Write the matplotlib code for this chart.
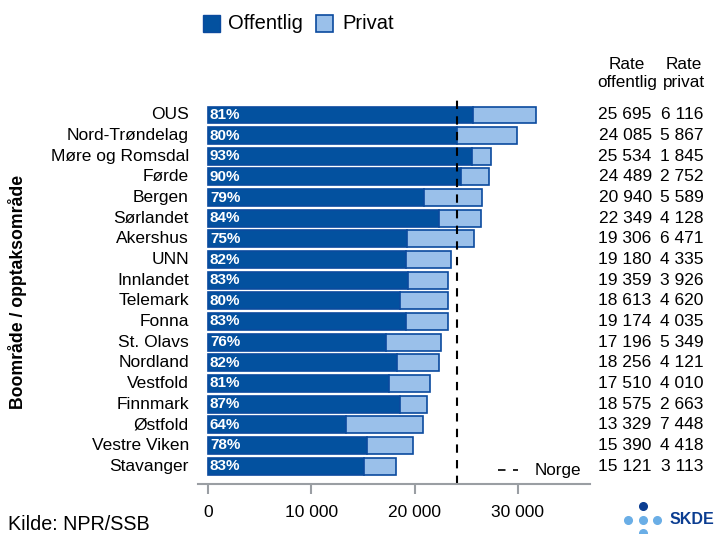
import matplotlib.pyplot as plt
from matplotlib.patches import Rectangle
from matplotlib.lines import Line2D

plt.rcParams['font.family'] = ['Liberation Sans', 'DejaVu Sans']

omrader = ["OUS", "Nord-Trøndelag", "Møre og Romsdal", "Førde", "Bergen", "Sørlandet",
           "Akershus", "UNN", "Innlandet", "Telemark", "Fonna", "St. Olavs",
           "Nordland", "Vestfold", "Finnmark", "Østfold", "Vestre Viken", "Stavanger"]
offentlig = [25695, 24085, 25534, 24489, 20940, 22349, 19306, 19180, 19359, 18613,
             19174, 17196, 18256, 17510, 18575, 13329, 15390, 15121]
privat = [6116, 5867, 1845, 2752, 5589, 4128, 6471, 4335, 3926, 4620,
          4035, 5349, 4121, 4010, 2663, 7448, 4418, 3113]
andel = [81, 80, 93, 90, 79, 84, 75, 82, 83, 80, 83, 76, 82, 81, 87, 64, 78, 83]
norge = 24100

mork = "#03519F"
lys = "#9AC0EA"
kant = "#0B4A9E"
gra = "#9A9EA3"


def fmt(v):
    return "{:,}".format(v).replace(",", " ")


fig = plt.figure(figsize=(7.15, 5.34), dpi=100)
ax = fig.add_axes([0.277, 0.0936, 0.548, 0.722])

y = list(range(len(omrader)))
ax.barh(y, offentlig, height=0.82, color=mork, edgecolor=kant, linewidth=1.2)
ax.barh(y, privat, left=offentlig, height=0.82, color=lys, edgecolor=kant, linewidth=1.2)

for i in y:
    ax.text(150, i, "{}%".format(andel[i]), color="white", fontsize=11,
            fontweight="bold", va="center", ha="left")
    ax.text(-1900, i, omrader[i], fontsize=12.5, va="center", ha="right")
    ax.text(43000, i, fmt(offentlig[i]), fontsize=12.5, va="center", ha="right")
    ax.text(48000, i, fmt(privat[i]), fontsize=12.5, va="center", ha="right")

ax.axvline(norge, color="black", linestyle=(0, (4, 3.5)), linewidth=1.5)
ax.plot([28100, 30000], [17.2, 17.2], color="black", linestyle=(0, (4.5, 4.5)),
        linewidth=1.2, clip_on=False)
ax.text(31600, 17.2, "Norge", fontsize=12.3, va="center", ha="left")

ax.text(40600, -2.0, "Rate\noffentlig", fontsize=12.3, ha="center", va="center",
        linespacing=1.2)
ax.text(46100, -2.0, "Rate\nprivat", fontsize=12.3, ha="center", va="center",
        linespacing=1.2)

ax.set_xlim(-1000, 37000)
ax.set_ylim(17.87, -0.8)
ax.set_yticks([])
ax.set_xticks([0, 10000, 20000, 30000])
ax.set_xticklabels(["0", "10 000", "20 000", "30 000"], fontsize=12.5)
ax.tick_params(axis="x", length=7, width=1.5, color=gra, pad=8)
for s in ["top", "right", "left"]:
    ax.spines[s].set_visible(False)
ax.spines["bottom"].set_color(gra)
ax.spines["bottom"].set_linewidth(1.5)

# legend
fig.patches.append(Rectangle((203 / 715, 1 - 32 / 534), 17 / 715, 17 / 534,
                             transform=fig.transFigure, facecolor=mork, edgecolor=kant))
fig.patches.append(Rectangle((316 / 715, 1 - 32 / 534), 17 / 715, 17 / 534,
                             transform=fig.transFigure, facecolor=lys, edgecolor=kant,
                             linewidth=1.2))
fig.text(228 / 715, 1 - 23.5 / 534, "Offentlig", fontsize=14.5, va="center")
fig.text(342 / 715, 1 - 23.5 / 534, "Privat", fontsize=14.5, va="center")

fig.text(18 / 715, 1 - 292 / 534, "Boområde / opptaksområde", rotation=90, fontsize=12.7,
         fontweight="bold", ha="center", va="center")
fig.text(8 / 715, 1 - 524 / 534, "Kilde: NPR/SSB", fontsize=14.2, va="center")

# SKDE logo
fig.add_artist(Line2D([643 / 715], [1 - 506 / 534], marker="o", markersize=5.5,
                      color="#0B3D91", linestyle="none"))
for px, py in [(628, 520), (643, 520), (657, 520), (643, 533)]:
    fig.add_artist(Line2D([px / 715], [1 - py / 534], marker="o", markersize=5.5,
                          color="#6AAEE6", linestyle="none"))
fig.text(670 / 715, 1 - 520 / 534, "SKDE", fontsize=11.5, fontweight="bold",
         color="#0B3D91", va="center")

fig.savefig("out.png", dpi=100)
